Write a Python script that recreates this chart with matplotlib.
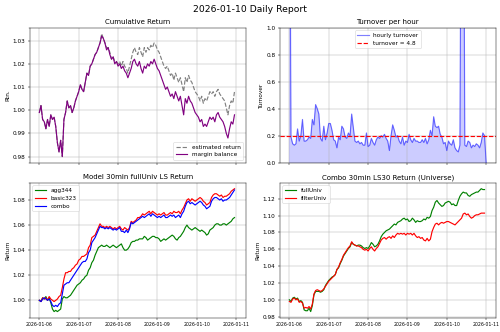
import numpy as np
import pandas as pd
import matplotlib
matplotlib.use('Agg')
import matplotlib.pyplot as plt
import matplotlib.dates as mdates

# cumulative return (hourly)
margin_balance = [
    0.999, 1.002, 0.996, 0.995, 0.992, 0.996, 0.993, 0.998, 0.996, 0.997, 0.993, 0.986,
    0.982, 0.987, 0.980, 0.996, 0.999, 1.004, 1.001, 1.002, 0.999, 1.001, 1.004, 1.006,
    1.008, 1.011, 1.009, 1.008, 1.012, 1.016, 1.015, 1.019, 1.020, 1.022, 1.024, 1.025,
    1.027, 1.029, 1.032, 1.031, 1.029, 1.026, 1.027, 1.024, 1.022, 1.023, 1.020, 1.021,
    1.019, 1.020, 1.018, 1.019, 1.017, 1.016, 1.014, 1.016, 1.018, 1.021, 1.022, 1.020,
    1.019, 1.021, 1.018, 1.016, 1.019, 1.018, 1.020, 1.019, 1.021, 1.020, 1.022, 1.020,
    1.018, 1.017, 1.015, 1.013, 1.011, 1.009, 1.010, 1.008, 1.006, 1.007, 1.005, 1.008,
    1.006, 1.004, 1.006, 1.002, 0.998, 1.005, 1.003, 1.006, 1.004, 1.003, 1.001, 0.999,
    0.998, 0.997, 0.995, 0.996, 0.993, 0.994, 0.993, 0.995, 0.997, 0.996, 0.997, 0.995,
    0.998, 0.999, 0.997, 0.996, 0.995, 0.993, 0.990, 0.988, 0.992, 0.995, 0.994, 0.998,
]
estimated_return = [
    0.999, 1.002, 0.996, 0.995, 0.992, 0.996, 0.993, 0.998, 0.996, 0.997, 0.993, 0.986,
    0.982, 0.987, 0.980, 0.996, 0.999, 1.004, 1.001, 1.002, 0.999, 1.001, 1.004, 1.006,
    1.008, 1.011, 1.009, 1.008, 1.012, 1.016, 1.015, 1.019, 1.020, 1.022, 1.024, 1.025,
    1.027, 1.029, 1.033, 1.031, 1.029, 1.027, 1.027, 1.025, 1.022, 1.023, 1.021, 1.021,
    1.020, 1.021, 1.019, 1.021, 1.019, 1.018, 1.016, 1.019, 1.022, 1.025, 1.027, 1.025,
    1.024, 1.027, 1.025, 1.023, 1.027, 1.025, 1.027, 1.026, 1.028, 1.027, 1.029, 1.028,
    1.026, 1.025, 1.023, 1.021, 1.019, 1.018, 1.019, 1.017, 1.015, 1.016, 1.013, 1.016,
    1.014, 1.012, 1.014, 1.011, 1.008, 1.014, 1.012, 1.015, 1.013, 1.012, 1.010, 1.008,
    1.007, 1.006, 1.004, 1.006, 1.003, 1.005, 1.004, 1.006, 1.008, 1.007, 1.008, 1.006,
    1.008, 1.009, 1.007, 1.006, 1.005, 1.004, 1.001, 0.998, 1.002, 1.004, 1.003, 1.008,
]

# turnover per hour
hourly_turnover = [
    3.00, 0.19, 0.14, 0.13, 0.14, 0.25, 0.16, 0.20, 0.32, 0.16, 0.16, 0.17,
    0.19, 0.18, 0.32, 0.28, 0.43, 0.40, 0.36, 0.18, 0.16, 0.27, 0.17, 0.22,
    0.29, 0.29, 0.24, 0.17, 0.16, 0.11, 0.19, 0.17, 0.27, 0.25, 0.19, 0.18,
    0.22, 0.20, 0.36, 0.26, 0.16, 0.15, 0.16, 0.14, 0.15, 0.13, 0.13, 0.22,
    0.12, 0.13, 0.18, 0.15, 0.13, 0.17, 0.19, 0.18, 0.20, 0.19, 0.21, 0.18,
    0.16, 0.09, 0.20, 0.28, 0.24, 0.19, 0.20, 0.16, 0.14, 0.19, 0.13, 0.16,
    0.15, 0.21, 0.17, 0.15, 0.18, 0.16, 0.16, 0.15, 0.15, 0.17, 0.15, 0.18,
    0.14, 0.17, 0.24, 0.20, 0.34, 0.27, 0.26, 0.27, 0.21, 0.19, 0.14, 0.15,
    0.09, 0.16, 0.14, 0.13, 0.17, 0.11, 0.09, 0.08, 0.13, 3.00, 3.00, 0.13,
    0.12, 0.16, 0.15, 0.11, 0.13, 0.12, 0.14, 0.13, 0.11, 0.15, 0.22, 0.20,
    0.00,
]
turnover_limit = 4.8

# model 30min fullUniv LS return
agg344 = [
    1.000, 0.999, 1.002, 1.001, 1.003, 1.000, 1.002, 0.998, 0.993, 0.991, 0.992, 0.991,
    0.992, 0.993, 1.001, 1.003, 1.002, 1.002, 1.003, 1.004, 1.006, 1.008, 1.010, 1.012,
    1.013, 1.014, 1.016, 1.017, 1.019, 1.020, 1.024, 1.026, 1.030, 1.032, 1.036, 1.039,
    1.042, 1.043, 1.044, 1.043, 1.043, 1.044, 1.043, 1.042, 1.043, 1.044, 1.043, 1.042,
    1.043, 1.044, 1.045, 1.042, 1.040, 1.040, 1.041, 1.043, 1.046, 1.047, 1.047, 1.048,
    1.048, 1.049, 1.049, 1.049, 1.051, 1.050, 1.048, 1.049, 1.050, 1.051, 1.051, 1.050,
    1.050, 1.049, 1.047, 1.048, 1.049, 1.048, 1.049, 1.050, 1.051, 1.052, 1.051, 1.049,
    1.048, 1.050, 1.051, 1.053, 1.055, 1.058, 1.060, 1.058, 1.057, 1.056, 1.057, 1.058,
    1.057, 1.056, 1.055, 1.056, 1.055, 1.054, 1.052, 1.053, 1.056, 1.057, 1.058, 1.060,
    1.061, 1.061, 1.060, 1.060, 1.061, 1.061, 1.060, 1.061, 1.062, 1.063, 1.065, 1.066,
]
basic323 = [
    1.000, 0.999, 1.002, 1.001, 1.002, 1.000, 1.003, 1.001, 1.000, 0.999, 1.000, 1.001,
    1.003, 1.004, 1.010, 1.017, 1.022, 1.022, 1.023, 1.023, 1.025, 1.026, 1.028, 1.029,
    1.032, 1.033, 1.035, 1.035, 1.036, 1.037, 1.042, 1.044, 1.050, 1.051, 1.052, 1.055,
    1.058, 1.061, 1.059, 1.059, 1.058, 1.059, 1.058, 1.059, 1.058, 1.057, 1.058, 1.057,
    1.058, 1.059, 1.057, 1.056, 1.058, 1.057, 1.056, 1.058, 1.063, 1.062, 1.063, 1.064,
    1.066, 1.066, 1.067, 1.069, 1.068, 1.069, 1.070, 1.071, 1.069, 1.071, 1.070, 1.069,
    1.068, 1.069, 1.068, 1.069, 1.070, 1.068, 1.068, 1.069, 1.070, 1.069, 1.071, 1.070,
    1.070, 1.071, 1.069, 1.072, 1.074, 1.077, 1.080, 1.081, 1.079, 1.081, 1.080, 1.079,
    1.080, 1.081, 1.082, 1.081, 1.079, 1.078, 1.076, 1.077, 1.078, 1.082, 1.084, 1.085,
    1.085, 1.084, 1.083, 1.084, 1.082, 1.083, 1.083, 1.084, 1.085, 1.087, 1.088, 1.089,
]
combo = [
    1.000, 0.999, 1.001, 1.002, 1.001, 1.000, 1.001, 0.999, 0.996, 0.995, 0.996, 0.995,
    0.997, 0.998, 1.005, 1.012, 1.013, 1.014, 1.014, 1.016, 1.018, 1.020, 1.022, 1.024,
    1.026, 1.028, 1.030, 1.031, 1.031, 1.033, 1.038, 1.040, 1.046, 1.048, 1.050, 1.053,
    1.056, 1.059, 1.058, 1.058, 1.057, 1.058, 1.057, 1.058, 1.057, 1.056, 1.057, 1.056,
    1.057, 1.058, 1.055, 1.055, 1.054, 1.056, 1.054, 1.057, 1.062, 1.061, 1.062, 1.063,
    1.064, 1.065, 1.066, 1.067, 1.066, 1.067, 1.068, 1.069, 1.067, 1.069, 1.068, 1.067,
    1.066, 1.067, 1.066, 1.067, 1.068, 1.066, 1.066, 1.067, 1.068, 1.067, 1.068, 1.066,
    1.067, 1.068, 1.066, 1.069, 1.071, 1.075, 1.078, 1.079, 1.077, 1.078, 1.077, 1.076,
    1.077, 1.078, 1.079, 1.078, 1.076, 1.075, 1.073, 1.074, 1.075, 1.079, 1.081, 1.082,
    1.082, 1.081, 1.080, 1.081, 1.079, 1.080, 1.080, 1.081, 1.082, 1.084, 1.086, 1.088,
]

# combo 30min LS30 return by universe
full_univ = [
    1.000, 0.998, 1.002, 1.003, 1.001, 1.002, 0.998, 0.999, 0.997, 0.988, 0.987, 0.987,
    0.990, 0.986, 0.993, 1.006, 1.010, 1.010, 1.010, 1.009, 1.010, 1.012, 1.017, 1.020,
    1.023, 1.025, 1.027, 1.028, 1.030, 1.036, 1.038, 1.043, 1.047, 1.052, 1.055, 1.058,
    1.061, 1.063, 1.068, 1.066, 1.065, 1.064, 1.065, 1.065, 1.064, 1.062, 1.061, 1.062,
    1.061, 1.064, 1.068, 1.066, 1.063, 1.064, 1.066, 1.070, 1.075, 1.078, 1.080, 1.082,
    1.083, 1.084, 1.086, 1.088, 1.090, 1.089, 1.092, 1.093, 1.094, 1.096, 1.097, 1.095,
    1.096, 1.093, 1.094, 1.097, 1.095, 1.092, 1.094, 1.093, 1.093, 1.094, 1.096, 1.095,
    1.098, 1.097, 1.099, 1.106, 1.110, 1.116, 1.118, 1.115, 1.113, 1.111, 1.112, 1.115,
    1.116, 1.117, 1.116, 1.113, 1.114, 1.112, 1.112, 1.118, 1.123, 1.126, 1.128, 1.127,
    1.127, 1.124, 1.123, 1.125, 1.126, 1.127, 1.128, 1.128, 1.130, 1.132, 1.131, 1.131,
]
filter_univ = [
    0.998, 0.997, 1.001, 1.002, 1.000, 1.001, 0.997, 0.998, 0.996, 0.990, 0.991, 0.990,
    0.992, 0.989, 0.995, 1.007, 1.011, 1.012, 1.011, 1.010, 1.011, 1.013, 1.016, 1.019,
    1.022, 1.024, 1.026, 1.028, 1.030, 1.036, 1.039, 1.044, 1.048, 1.053, 1.056, 1.059,
    1.062, 1.064, 1.069, 1.066, 1.065, 1.064, 1.064, 1.063, 1.062, 1.060, 1.059, 1.060,
    1.058, 1.061, 1.063, 1.060, 1.058, 1.061, 1.063, 1.067, 1.071, 1.073, 1.074, 1.072,
    1.074, 1.075, 1.073, 1.076, 1.074, 1.077, 1.079, 1.078, 1.079, 1.078, 1.079, 1.077,
    1.079, 1.078, 1.079, 1.077, 1.079, 1.076, 1.074, 1.075, 1.073, 1.074, 1.071, 1.070,
    1.073, 1.070, 1.072, 1.081, 1.086, 1.090, 1.091, 1.089, 1.091, 1.092, 1.091, 1.092,
    1.093, 1.093, 1.092, 1.091, 1.090, 1.089, 1.091, 1.093, 1.095, 1.097, 1.102, 1.103,
    1.101, 1.102, 1.099, 1.097, 1.098, 1.100, 1.101, 1.101, 1.102, 1.103, 1.103, 1.103,
]

report_date = '2026-01-10'
start = '2026-01-06 00:00'

t_ret = pd.date_range(start, periods=len(margin_balance), freq='h')
t_turn = pd.date_range(start, periods=len(hourly_turnover), freq='h')
t_model = pd.date_range(start, periods=len(basic323), freq='h')
t_univ = pd.date_range(start, periods=len(full_univ), freq='h')

lw = 2

fig, axes = plt.subplots(2, 2, figsize=(12, 7.968), sharex=True)
fig.subplots_adjust(left=0.059, right=0.992, top=0.917, bottom=0.043, hspace=0.147, wspace=0.155)
fig.suptitle('{} Daily Report'.format(report_date), fontsize=16, y=0.985)

ax = axes[0, 0]
ax.plot(t_ret, estimated_return, color='gray', linestyle='--', lw=lw, label='estimated return')
ax.plot(t_ret, margin_balance, color='purple', lw=lw, label='margin balance')
ax.set_title('Cumulative Return')
ax.set_ylabel('Rtn.')
ax.legend(loc='lower right')
ax.grid(True)

ax = axes[0, 1]
ax.plot(t_turn, hourly_turnover, color='blue', alpha=0.5, lw=lw, label='hourly turnover')
ax.fill_between(t_turn, hourly_turnover, color='blue', alpha=0.2)
ax.axhline(turnover_limit / 24, color='red', linestyle='--', lw=lw, label='turnover = {}'.format(turnover_limit))
ax.set_ylim(0, 1)
ax.set_title('Turnover per hour')
ax.set_ylabel('Turnover')
ax.legend(loc='upper center')
ax.grid(True)

ax = axes[1, 0]
ax.plot(t_model, agg344, color='green', lw=lw, label='agg344')
ax.plot(t_model, basic323, color='red', lw=lw, label='basic323')
ax.plot(t_model, combo, color='blue', lw=lw, label='combo')
ax.set_title('Model 30min fullUniv LS Return')
ax.set_ylabel('Return')
ax.legend(loc='upper left')
ax.grid(True)

ax = axes[1, 1]
ax.plot(t_univ, full_univ, color='green', lw=lw, label='fullUniv')
ax.plot(t_univ, filter_univ, color='red', lw=lw, label='filterUniv')
ax.set_title('Combo 30min LS30 Return (Universe)')
ax.set_ylabel('Return')
ax.legend(loc='upper left')
ax.grid(True)

for ax in axes[1]:
    ax.xaxis.set_major_locator(mdates.DayLocator())
    ax.xaxis.set_major_formatter(mdates.DateFormatter('%Y-%m-%d'))
    ax.tick_params(axis='x', labelsize=8)

fig.savefig('out.png', dpi=500 / 12)
